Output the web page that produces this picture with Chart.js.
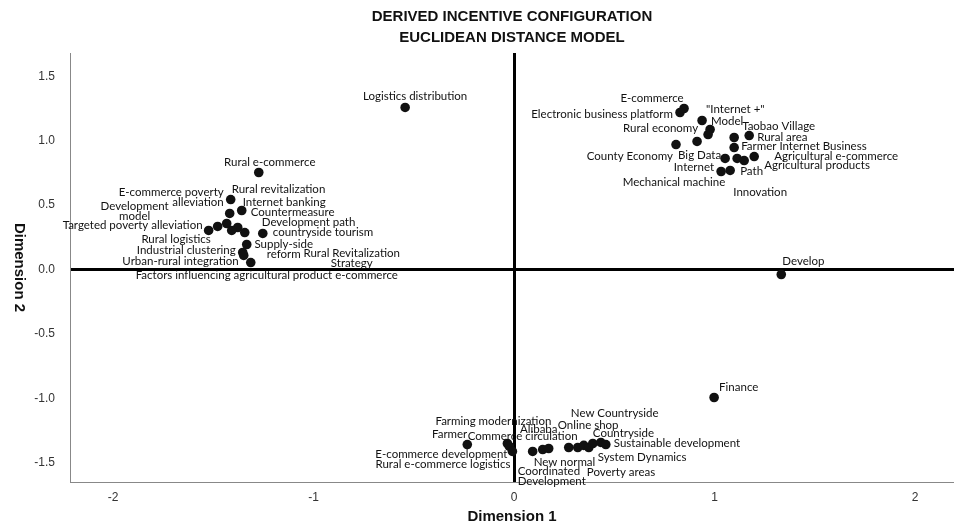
<!DOCTYPE html>
<html lang="en">
<head>
<meta charset="UTF-8">
<title>Derived Incentive Configuration - Euclidean Distance Model</title>
<script src="https://cdn.jsdelivr.net/npm/chart.js@4.4.1/dist/chart.umd.min.js"></script>
<style>
    html, body { margin: 0; padding: 0; background: #fff; }
    #wrap { width: 954px; height: 529px; }
</style>
</head>
<body>
<div id="wrap"><canvas id="chart" width="954" height="529"></canvas></div>
<script>
// keyword terms and their coordinates on the two dimensions
const terms = [
    'Logistics distribution', 'Rural e-commerce', 'Rural revitalization', 'Internet banking',
    'E-commerce poverty\nalleviation', 'Countermeasure', 'Development\nmodel', 'Targeted poverty alleviation',
    'Development path', 'countryside tourism', 'Rural logistics', 'Rural Revitalization\nStrategy',
    'Supply-side\nreform', 'Industrial clustering', 'Urban-rural integration',
    'Factors influencing agricultural product e-commerce',
    'E-commerce', 'Electronic business platform', '"Internet +"', 'Model', 'Rural economy',
    'Mechanical machine', 'County Economy', 'Taobao Village', 'Rural area', 'Farmer Internet Business',
    'Big Data', 'Innovation', 'Agricultural products', 'Agricultural e-commerce', 'Internet', 'Path',
    'Develop', 'Finance',
    'Farmer', 'Farming modernization', 'E-commerce development', 'Rural e-commerce logistics',
    'Coordinated\nDevelopment', 'Commerce circulation', 'New normal', 'Alibaba', 'Online shop',
    'New Countryside', 'Poverty areas', 'System Dynamics', 'Countryside', 'Sustainable development'
];
const dim1 = [
    -0.543, -1.273, -1.413, -1.358, -1.418, -1.433, -1.478, -1.523,
    -1.378, -1.253, -1.408, -1.343, -1.333, -1.353, -1.348, -1.313,
    0.848, 0.828, 0.938, 0.978, 0.968, 0.913, 0.808, 1.098, 1.173, 1.098,
    1.053, 1.113, 1.148, 1.198, 1.033, 1.078,
    1.333, 0.998,
    -0.233, -0.033, -0.023, -0.008, 0.093, 0.143, 0.173, 0.273, 0.318,
    0.348, 0.373, 0.393, 0.433, 0.458
];
const dim2 = [
    1.258, 0.753, 0.543, 0.458, 0.435, 0.357, 0.334, 0.303,
    0.326, 0.280, 0.303, 0.287, 0.194, 0.132, 0.109, 0.054,
    1.250, 1.219, 1.157, 1.087, 1.048, 0.994, 0.970, 1.025, 1.040, 0.947,
    0.862, 0.862, 0.846, 0.877, 0.761, 0.769,
    -0.039, -0.994,
    -1.359, -1.351, -1.374, -1.413, -1.413, -1.398, -1.390, -1.382, -1.382,
    -1.366, -1.382, -1.351, -1.343, -1.359
];
const xTicks = [-2, -1, 0, 1, 2];
const yTicks = [-1.5, -1.0, -0.5, 0, 0.5, 1.0, 1.5];

// where each term's text sits next to its dot: [align, dx, dy] in pixels
const placement = [
    ['C', 10, -11], ['C', 11, -10], ['L', 1, -10], ['L', 1, -8],
    ['R', -6, -21], ['L', 24, -11], ['C', -83, -20], ['R', -6, -5],
    ['L', 24, -5], ['L', 10, -1], ['R', -21, 9], ['C', 107, 21],
    ['C', 37, 0], ['R', -7, -2], ['R', -5, 6], ['C', 16, 13],
    ['C', -32, -10], ['R', -7, 2], ['L', 4, -11], ['L', 1, -8], ['R', -10, -6],
    ['C', -23, 41], ['R', -3, 12], ['L', 8, -11], ['L', 8, 2], ['L', 7, -1],
    ['R', -4, -3], ['C', 23, 34], ['L', 20, 5], ['L', 20, 0], ['R', -7, -4], ['L', 10, 1],
    ['L', 1, -13], ['L', 5, -10],
    ['R', 0, -10], ['C', -14, -22], ['R', -2, 8], ['R', -2, 13], ['L', -15, 20],
    ['C', -20, -13], ['L', -15, 14], ['C', -30, -18], ['L', -20, -22],
    ['L', -13, -32], ['L', -2, 25], ['L', 5, 14], ['L', -8, -9], ['L', 8, -1]
];

const alignMap = { L: 'left', R: 'right', C: 'center' };

const termLabels = {
    id: 'termLabels',
    afterDatasetsDraw(chart) {
        const ctx = chart.ctx;
        const pts = chart.getDatasetMeta(0).data;
        ctx.save();
        ctx.font = '11.5px Lato';
        ctx.fillStyle = '#111';
        ctx.textBaseline = 'middle';
        pts.forEach((p, i) => {
            const [a, dx, dy] = placement[i];
            ctx.textAlign = alignMap[a];
            terms[i].split('\n').forEach((line, k) => {
                ctx.fillText(line, p.x + dx, p.y + dy + k * 10);
            });
        });
        // y axis title reads top to bottom in the original
        const area = chart.chartArea;
        ctx.translate(19, (area.top + area.bottom) / 2);
        ctx.rotate(Math.PI / 2);
        ctx.font = 'bold 15px "Liberation Sans"';
        ctx.fillStyle = '#111';
        ctx.textAlign = 'center';
        ctx.fillText('Dimension 2', 0, 0);
        ctx.restore();
    }
};

const zeroLine = {
    drawTicks: false,
    color: c => (c.tick && c.tick.value === 0) ? '#000' : 'transparent',
    lineWidth: c => (c.tick && c.tick.value === 0) ? 3 : 0
};
const tickFont = { family: '"Liberation Sans"', size: 12 };

new Chart(document.getElementById('chart'), {
    type: 'scatter',
    data: {
        datasets: [{
            data: dim1.map((x, i) => ({ x: x, y: dim2[i] })),
            backgroundColor: '#111',
            borderWidth: 0,
            pointRadius: 4.8
        }]
    },
    options: {
        responsive: false,
        animation: false,
        devicePixelRatio: 1,
        layout: { padding: 0, autoPadding: false },
        plugins: {
            legend: { display: false },
            tooltip: { enabled: false },
            title: {
                display: true,
                fullSize: false,
                text: ['DERIVED INCENTIVE CONFIGURATION', 'EUCLIDEAN DISTANCE MODEL'],
                color: '#111',
                font: { family: '"Liberation Sans Narrow", "Liberation Sans"', size: 15, weight: 'bold', lineHeight: 1.4 },
                padding: { top: 6, bottom: 5 }
            }
        },
        scales: {
            x: {
                type: 'linear',
                min: -2.2145,
                max: 2.1945,
                afterBuildTicks: s => { s.ticks = xTicks.map(v => ({ value: v })); },
                afterFit: s => { s.height = 47; },
                grid: zeroLine,
                border: { color: '#888', width: 1 },
                ticks: { padding: 8, color: '#333', font: tickFont, callback: v => String(v) },
                title: {
                    display: true,
                    text: 'Dimension 1',
                    color: '#111',
                    font: { family: '"Liberation Sans"', size: 15, weight: 'bold', lineHeight: 1.2 },
                    padding: { top: 0, bottom: 3 }
                }
            },
            y: {
                type: 'linear',
                min: -1.65,
                max: 1.681,
                afterBuildTicks: s => { s.ticks = yTicks.map(v => ({ value: v })); },
                afterFit: s => { s.width = 70; },
                grid: zeroLine,
                border: { color: '#888', width: 1 },
                ticks: { padding: 15, color: '#333', font: tickFont, callback: v => v.toFixed(1) }
            }
        }
    },
    plugins: [termLabels]
});
</script>
</body>
</html>
